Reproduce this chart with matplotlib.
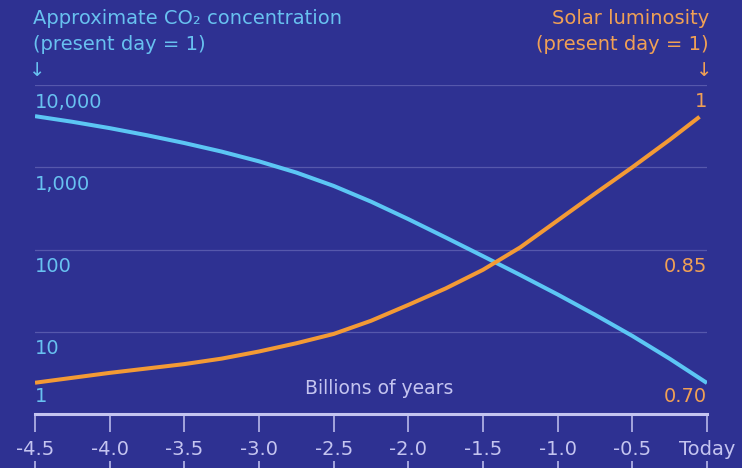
import matplotlib.pyplot as plt
import numpy as np

# billions of years before present
years = [-4.5, -4.25, -4.0, -3.75, -3.5, -3.25, -3.0, -2.75, -2.5, -2.25,
         -2.0, -1.75, -1.5, -1.25, -1.0, -0.75, -0.5, -0.25, 0.0]
# approximate CO2 concentration relative to today
co2 = [4180, 3570, 2990, 2450, 1970, 1550, 1180, 862, 593, 382,
       234, 140, 83, 48.9, 28.4, 16.1, 8.9, 4.7, 2.38]
# solar luminosity relative to today (curve stops just short of today)
lum_years = [-4.5, -4.25, -4.0, -3.75, -3.5, -3.25, -3.0, -2.75, -2.5, -2.25,
             -2.0, -1.75, -1.5, -1.25, -1.0, -0.75, -0.5, -0.25, -0.05]
lum = [0.7285, 0.733, 0.7375, 0.7415, 0.7455, 0.7505, 0.757, 0.7645, 0.773, 0.785,
       0.7995, 0.8145, 0.8315, 0.852, 0.8765, 0.901, 0.925, 0.950, 0.971]

xticks = [-4.5, -4.0, -3.5, -3.0, -2.5, -2.0, -1.5, -1.0, -0.5, 0.0]
xlabels = ['-4.5', '-4.0', '-3.5', '-3.0', '-2.5', '-2.0', '-1.5', '-1.0', '-0.5', 'Today']
co2_ticks = [10000, 1000, 100, 10, 1]
co2_labels = ['10,000', '1,000', '100', '10', '1']
lum_ticks = [1.0, 0.85, 0.70]
lum_labels = ['1', '0.85', '0.70']

BG = '#2e3192'
BLUE = '#5cc6f4'
BLUE_TXT = '#68c1f0'
ORANGE = '#f39a35'
ORANGE_TXT = '#f0a055'
LAV = '#c4c4f0'
GRID = '#5658ac'

plt.rcParams['font.family'] = ['DejaVu Sans']

W, H = 742, 468
fig = plt.figure(figsize=(W / 100, H / 100), dpi=100, facecolor=BG)
ax = fig.add_axes([35 / W, 1 - 414 / H, (707 - 35) / W, (414 - 85) / H])
ax.set_facecolor(BG)
ax2 = ax.twinx()

ax.set_yscale('log')
ax.set_ylim(1, 10000)
ax.set_xlim(-4.5, 0)
ax2.set_ylim(0.70, 1.0)

for a in (ax, ax2):
    for s in a.spines.values():
        s.set_visible(False)
    a.set_yticks([])
ax.yaxis.set_minor_locator(plt.NullLocator())

# grid lines
for v in co2_ticks[:-1]:
    ax.axhline(v, color=GRID, lw=0.9, zorder=1)

ax.spines['bottom'].set_visible(True)
ax.spines['bottom'].set_color(LAV)
ax.spines['bottom'].set_linewidth(2.2)
ax.set_xticks(xticks)
ax.set_xticklabels(xlabels)
ax.tick_params(axis='x', colors=LAV, length=13, width=1.1, labelsize=14, pad=6)

# ticks cut off by the bottom edge
sec = ax.secondary_xaxis(-0.164)
sec.set_xticks(xticks)
sec.set_xticklabels([])
sec.tick_params(axis='x', direction='in', colors=LAV, length=5, width=1.1)
sec.spines['bottom'].set_visible(False)

ax2.plot(lum_years, lum, color=ORANGE, lw=2.9, solid_capstyle='butt', zorder=3)
ax.plot(years, co2, color=BLUE, lw=2.9, solid_capstyle='butt', zorder=3)
ax2.set_zorder(ax.get_zorder() + 1)
ax2.patch.set_visible(False)

# left tick labels
for v, lab in zip(co2_ticks, co2_labels):
    dy = 17 if v == 1 else -17
    ax.annotate(lab, (-4.5, v), xytext=(0, dy), textcoords='offset pixels',
                ha='left', va='center', color=BLUE_TXT, fontsize=14, annotation_clip=False)
# right tick labels
for v, lab in zip(lum_ticks, lum_labels):
    dy = 17 if v == 0.70 else -17
    ax2.annotate(lab, (0, v), xytext=(0, dy), textcoords='offset pixels',
                 ha='right', va='center', color=ORANGE_TXT, fontsize=14, annotation_clip=False)

ax.text(0.512, 0.078, 'Billions of years', transform=ax.transAxes, ha='center',
        va='center', color=LAV, fontsize=13.5)

fig.text(33 / W, 1 - 19 / H, 'Approximate CO₂ concentration', color=BLUE_TXT,
         fontsize=14, ha='left', va='center')
fig.text(33 / W, 1 - 45 / H, '(present day = 1)', color=BLUE_TXT,
         fontsize=14, ha='left', va='center')
fig.text(37 / W, 1 - 70 / H, '↓', color=BLUE_TXT, fontsize=14, ha='center',
         va='center')
fig.text(709 / W, 1 - 19 / H, 'Solar luminosity', color=ORANGE_TXT,
         fontsize=14, ha='right', va='center')
fig.text(709 / W, 1 - 45 / H, '(present day = 1)', color=ORANGE_TXT,
         fontsize=14, ha='right', va='center')
fig.text(704 / W, 1 - 70 / H, '↓', color=ORANGE_TXT, fontsize=14, ha='center',
         va='center')

fig.savefig('out.png', dpi=100, facecolor=BG)
